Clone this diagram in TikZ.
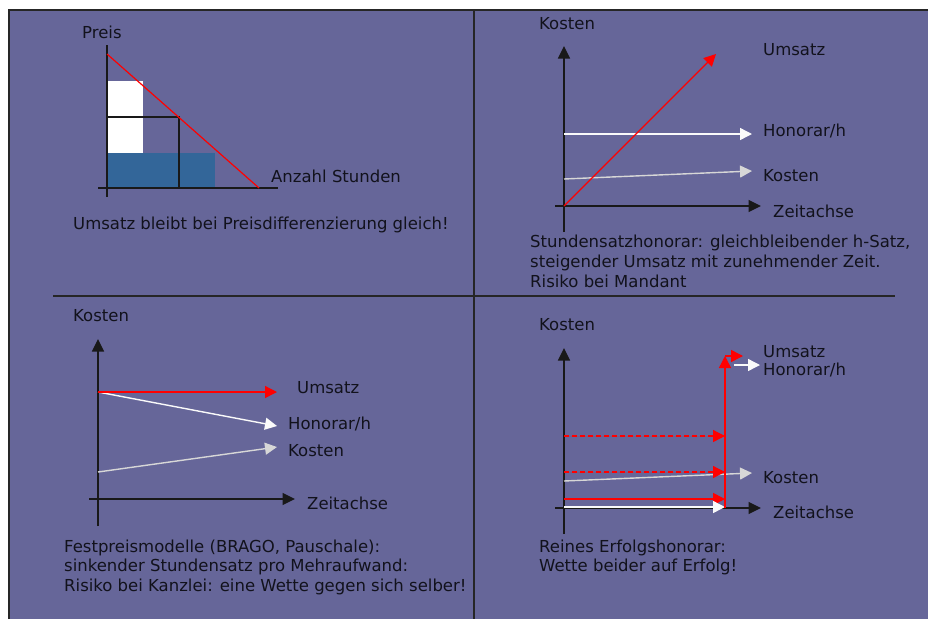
\documentclass[tikz,border=0pt]{standalone}
\usepackage{fontspec}
\setmainfont{DejaVu Sans}
\usetikzlibrary{arrows.meta}
\definecolor{bgpurple}{RGB}{102,102,153}
\definecolor{barblue}{RGB}{51,102,153}
\definecolor{lightgrey}{RGB}{215,215,215}
\definecolor{offwhite}{RGB}{250,250,250}
\definecolor{txt}{RGB}{18,18,28}
\begin{document}
\begin{tikzpicture}[x=1pt,y=-1pt,
  lbl/.style={anchor=base west, inner sep=0pt, font=\fontsize{16.5}{20}\selectfont, text=txt},
  frame/.style={draw=black!85, line width=2pt},
  axis/.style={draw=black!90, line width=1.3pt},
  axarrow/.style={axis, -{Triangle[length=12.5pt,width=12pt]}},
  tipstyle/.style={-{Triangle[length=12pt,width=12pt]}},
  redarrow/.style={draw=red, fill=red, line width=1.3pt, tipstyle},
  whitearrow/.style={draw=offwhite, fill=offwhite, line width=1.4pt, tipstyle},
  greyarrow/.style={draw=lightgrey, fill=lightgrey, line width=1.4pt, tipstyle},
  reddashed/.style={redarrow, dash pattern=on 5pt off 3pt}
]
\useasboundingbox (0,0) rectangle (928,619);
\fill[white] (0,0) rectangle (928,619);
\fill[bgpurple] (8,9) rectangle (928,619);
\draw[frame] (9,619) -- (9,10) -- (928,10);
\draw[frame] (53,295.5) -- (895,295.5);
\draw[frame] (474,10) -- (474,619);

% ---------- Quadrant 1 ----------
\fill[white] (107,81) rectangle (143,153);
\fill[barblue] (107,153) rectangle (215,188);
\draw[black!90, line width=1.2pt] (107,117) -- (179,117) -- (179,188);
\draw[axis] (107,45) -- (107,197);
\draw[axis] (98,188) -- (278,188);
\draw[red, line width=1.2pt] (107,54) -- (259,188);
\node[lbl] (preis) at (82,38) {Preis};
\node[lbl] (anzahl) at (271,182) {Anzahl Stunden};
\node[lbl] (umsatzgleich) at (73,229) {Umsatz bleibt bei Preisdifferenzierung gleich!};

% ---------- Quadrant 2 ----------
\draw[axarrow] (564,232) -- (564,46);
\draw[axarrow] (555,206) -- (761,206);
\draw[whitearrow] (564,134) -- (752,134);
\draw[greyarrow] (564,179) -- (752,171);
\draw[redarrow] (564,206) -- (716,54);
\node[lbl] (kostenB) at (539,29) {Kosten};
\node[lbl] (umsatzB) at (763,55) {Umsatz};
\node[lbl] (honorarB) at (763,136) {Honorar/h};
\node[lbl] (kostenB2) at (763,181) {Kosten};
\node[lbl] (zeitB) at (773,217) {Zeitachse};
\node[lbl] (tB1) at (530,247) {Stundensatzhonorar: gleichbleibender h-Satz,};
\node[lbl] (tB2) at (530,267) {steigender Umsatz mit zunehmender Zeit.};
\node[lbl] (tB3) at (530,287) {Risiko bei Mandant};

% ---------- Quadrant 3 ----------
\draw[axarrow] (98,526) -- (98,339);
\draw[axarrow] (89,499) -- (295,499);
\draw[greyarrow] (98,472) -- (277,447);
\draw[whitearrow] (98,392) -- (277,426);
\draw[redarrow] (98,392) -- (277,392);
\node[lbl] (kostenC) at (73,321) {Kosten};
\node[lbl] (umsatzC) at (297,393) {Umsatz};
\node[lbl] (honorarC) at (288,429) {Honorar/h};
\node[lbl] (kostenC2) at (288,456) {Kosten};
\node[lbl] (zeitC) at (307,509) {Zeitachse};
\node[lbl] (tC1) at (64,552) {Festpreismodelle (BRAGO, Pauschale):};
\node[lbl] (tC2) at (64,571) {sinkender Stundensatz pro Mehraufwand:};
\node[lbl] (tC3) at (64,591) {Risiko bei Kanzlei: eine Wette gegen sich selber!};

% ---------- Quadrant 4 ----------
\draw[axarrow] (564,534) -- (564,348);
\draw[axarrow] (555,508) -- (761,508);
\draw[greyarrow] (564,481) -- (752,473);
\draw[reddashed] (564,436) -- (725,436);
\draw[reddashed] (564,472) -- (725,472);
\draw[redarrow, line width=1.8pt] (564,499) -- (725,499);
\draw[whitearrow] (564,507) -- (725,507);
\draw[redarrow, line width=1.5pt] (725,508) -- (725,356);
\draw[redarrow, line width=1.5pt] (725,356) -- (743,356);
\draw[whitearrow] (734,365) -- (760,365);
\node[lbl] (kostenD) at (539,330) {Kosten};
\node[lbl] (umsatzD) at (763,357) {Umsatz};
\node[lbl] (honorarD) at (763,375) {Honorar/h};
\node[lbl] (kostenD2) at (763,483) {Kosten};
\node[lbl] (zeitD) at (773,518) {Zeitachse};
\node[lbl] (tD1) at (539,552) {Reines Erfolgshonorar:};
\node[lbl] (tD2) at (539,571) {Wette beider auf Erfolg!};
\end{tikzpicture}
\end{document}
